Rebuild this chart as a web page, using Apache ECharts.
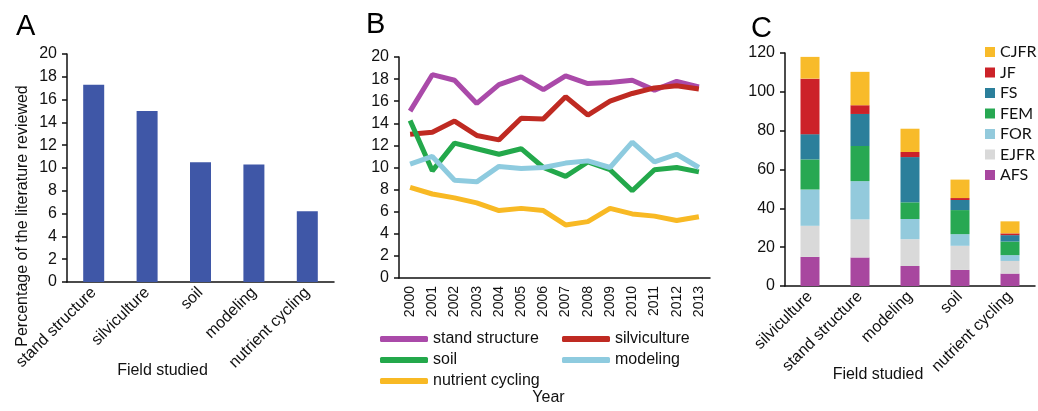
<!DOCTYPE html>
<html>
<head>
<meta charset="utf-8">
<script src="https://cdn.jsdelivr.net/npm/echarts@6/dist/echarts.min.js"></script>
<style>
html, body { margin: 0; padding: 0; background: #fff; }
#main { width: 1038px; height: 411px; }
</style>
</head>
<body>
<div id="main"></div>
<script>
// panel A - share of literature by field
var fieldsA = ['stand structure', 'silviculture', 'soil', 'modeling', 'nutrient cycling'];
var shareA = [17.3, 15.0, 10.5, 10.3, 6.2];

// panel B - yearly share
var years = ['2000', '2001', '2002', '2003', '2004', '2005', '2006', '2007', '2008', '2009', '2010', '2011', '2012', '2013'];
var standStructure = [15.1, 18.4, 17.9, 15.8, 17.5, 18.2, 17.05, 18.3, 17.6, 17.7, 17.9, 17.0, 17.8, 17.3];
var silviculture = [13.0, 13.2, 14.2, 12.9, 12.5, 14.45, 14.4, 16.4, 14.75, 16.0, 16.7, 17.2, 17.4, 17.1];
var soil = [14.25, 9.7, 12.2, 11.7, 11.2, 11.7, 10.0, 9.2, 10.5, 9.8, 7.9, 9.8, 10.0, 9.6];
var modeling = [10.3, 11.0, 8.85, 8.7, 10.1, 9.9, 10.0, 10.4, 10.6, 10.0, 12.3, 10.5, 11.2, 10.0];
var nutrientCycling = [8.2, 7.6, 7.25, 6.8, 6.1, 6.3, 6.1, 4.8, 5.1, 6.3, 5.8, 5.6, 5.2, 5.55];

// panel C - papers per journal
var fieldsC = ['silviculture', 'stand structure', 'modeling', 'soil', 'nutrient cycling'];
var afs = [15.0, 14.7, 10.3, 8.3, 6.4];
var ejfr = [16.0, 19.6, 13.8, 12.4, 6.5];
var forr = [18.7, 19.7, 10.4, 6.0, 3.0];
var fem = [15.5, 18.1, 8.6, 12.4, 7.0];
var fs = [13.0, 16.5, 23.3, 5.2, 3.3];
var jf = [28.6, 4.5, 2.6, 1.0, 0.9];
var cjfr = [11.2, 17.2, 12.0, 9.5, 6.2];

var fontFam = '"Liberation Sans", Arial, sans-serif';
var axisLine = { lineStyle: { color: '#111', width: 1.5 } };
var axisTick = { length: 5, lineStyle: { color: '#111', width: 1.5 } };
var tickLabel = { color: '#111', fontSize: 16, fontFamily: fontFam, margin: 10 };
var letterStyle = { fontSize: 29, fontWeight: 'normal', color: '#000', fontFamily: fontFam };

var myChart = echarts.init(document.getElementById('main'));

var option = {
    animation: false,
    textStyle: { fontFamily: fontFam },
    title: [
        { text: 'A', left: 11, top: 7, textStyle: letterStyle },
        { text: 'B', left: 361, top: 5, textStyle: letterStyle },
        { text: 'C', left: 746, top: 9, textStyle: letterStyle }
    ],
    grid: [
        { left: 67, top: 54, width: 267, height: 228 },
        { left: 399, top: 57, width: 311, height: 226 },
        { left: 785, top: 53, width: 250, height: 233 }
    ],
    legend: [
        {
            data: ['stand structure', 'soil', 'nutrient cycling'],
            orient: 'vertical', left: 380, top: 331, padding: 0,
            icon: 'roundRect', itemWidth: 48, itemHeight: 6, itemGap: 5,
            textStyle: { fontSize: 16, color: '#111' }
        },
        {
            data: ['silviculture', 'modeling'],
            orient: 'vertical', left: 562, top: 331, padding: 0,
            icon: 'roundRect', itemWidth: 48, itemHeight: 6, itemGap: 5,
            textStyle: { fontSize: 16, color: '#111' }
        },
        {
            data: ['CJFR', 'JF', 'FS', 'FEM', 'FOR', 'EJFR', 'AFS'],
            orient: 'vertical', left: 985, top: 44, padding: 0,
            icon: 'rect', itemWidth: 10, itemHeight: 10, itemGap: 4.5,
            textStyle: { fontSize: 16, color: '#111', fontFamily: 'Lato, "Liberation Sans", sans-serif' }
        }
    ],
    xAxis: [
        {
            gridIndex: 0, type: 'category', data: fieldsA,
            name: 'Field studied', nameLocation: 'middle', nameGap: 81, nameMoveOverlap: false,
            nameTextStyle: { fontSize: 16, color: '#111', padding: [0, 76, 0, 0] },
            axisLine: axisLine, axisTick: Object.assign({ alignWithLabel: true }, axisTick),
            axisLabel: { rotate: 45, fontSize: 16, color: '#111', margin: 8 }
        },
        {
            gridIndex: 1, type: 'category', data: years,
            name: 'Year', nameLocation: 'middle', nameGap: 112, nameMoveOverlap: false,
            nameTextStyle: { fontSize: 16, color: '#111', padding: [0, 12, 0, 0] },
            axisLine: axisLine, axisTick: Object.assign({ alignWithLabel: true }, axisTick),
            axisLabel: { rotate: 90, fontSize: 14, color: '#111', margin: 8 }
        },
        {
            gridIndex: 2, type: 'category', data: fieldsC,
            name: 'Field studied', nameLocation: 'middle', nameGap: 81, nameMoveOverlap: false,
            nameTextStyle: { fontSize: 16, color: '#111', padding: [0, 64, 0, 0] },
            axisLine: axisLine, axisTick: Object.assign({ alignWithLabel: true }, axisTick),
            axisLabel: { rotate: 45, fontSize: 16, color: '#111', margin: 8 }
        }
    ],
    yAxis: [
        {
            gridIndex: 0, type: 'value', min: 0, max: 20, interval: 2,
            name: 'Percentage of the literature reviewed', nameLocation: 'middle', nameGap: 36, nameMoveOverlap: false,
            nameTextStyle: { fontSize: 16, color: '#111', padding: [0, 96, 0, 0] },
            axisLine: Object.assign({ show: true }, axisLine), axisTick: Object.assign({ show: true }, axisTick),
            axisLabel: tickLabel, splitLine: { show: false }
        },
        {
            gridIndex: 1, type: 'value', min: 0, max: 20, interval: 2,
            axisLine: Object.assign({ show: true }, axisLine), axisTick: Object.assign({ show: true }, axisTick),
            axisLabel: tickLabel, splitLine: { show: false }
        },
        {
            gridIndex: 2, type: 'value', min: 0, max: 120, interval: 20,
            axisLine: Object.assign({ show: true }, axisLine), axisTick: Object.assign({ show: true }, axisTick),
            axisLabel: tickLabel, splitLine: { show: false }
        }
    ],
    series: [
        { name: 'share', type: 'bar', xAxisIndex: 0, yAxisIndex: 0, data: shareA, barWidth: 21,
          itemStyle: { color: '#3f57a7' } },

        { name: 'stand structure', type: 'line', xAxisIndex: 1, yAxisIndex: 1, data: standStructure,
          symbol: 'none', lineStyle: { width: 5 }, color: '#aa4aa9' },
        { name: 'silviculture', type: 'line', xAxisIndex: 1, yAxisIndex: 1, data: silviculture,
          symbol: 'none', lineStyle: { width: 5 }, color: '#bf2a22' },
        { name: 'soil', type: 'line', xAxisIndex: 1, yAxisIndex: 1, data: soil,
          symbol: 'none', lineStyle: { width: 5 }, color: '#23a84b' },
        { name: 'modeling', type: 'line', xAxisIndex: 1, yAxisIndex: 1, data: modeling,
          symbol: 'none', lineStyle: { width: 5 }, color: '#8ecbdf' },
        { name: 'nutrient cycling', type: 'line', xAxisIndex: 1, yAxisIndex: 1, data: nutrientCycling,
          symbol: 'none', lineStyle: { width: 5 }, color: '#f8b924' },

        { name: 'AFS', type: 'bar', stack: 'c', xAxisIndex: 2, yAxisIndex: 2, data: afs, barWidth: 19, itemStyle: { color: '#a8479f' } },
        { name: 'EJFR', type: 'bar', stack: 'c', xAxisIndex: 2, yAxisIndex: 2, data: ejfr, barWidth: 19, itemStyle: { color: '#d9d9d9' } },
        { name: 'FOR', type: 'bar', stack: 'c', xAxisIndex: 2, yAxisIndex: 2, data: forr, barWidth: 19, itemStyle: { color: '#93cadc' } },
        { name: 'FEM', type: 'bar', stack: 'c', xAxisIndex: 2, yAxisIndex: 2, data: fem, barWidth: 19, itemStyle: { color: '#27a852' } },
        { name: 'FS', type: 'bar', stack: 'c', xAxisIndex: 2, yAxisIndex: 2, data: fs, barWidth: 19, itemStyle: { color: '#2b7f9b' } },
        { name: 'JF', type: 'bar', stack: 'c', xAxisIndex: 2, yAxisIndex: 2, data: jf, barWidth: 19, itemStyle: { color: '#cc2229' } },
        { name: 'CJFR', type: 'bar', stack: 'c', xAxisIndex: 2, yAxisIndex: 2, data: cjfr, barWidth: 19, itemStyle: { color: '#f8bb2a' } }
    ]
};

myChart.setOption(option);
</script>
</body>
</html>
